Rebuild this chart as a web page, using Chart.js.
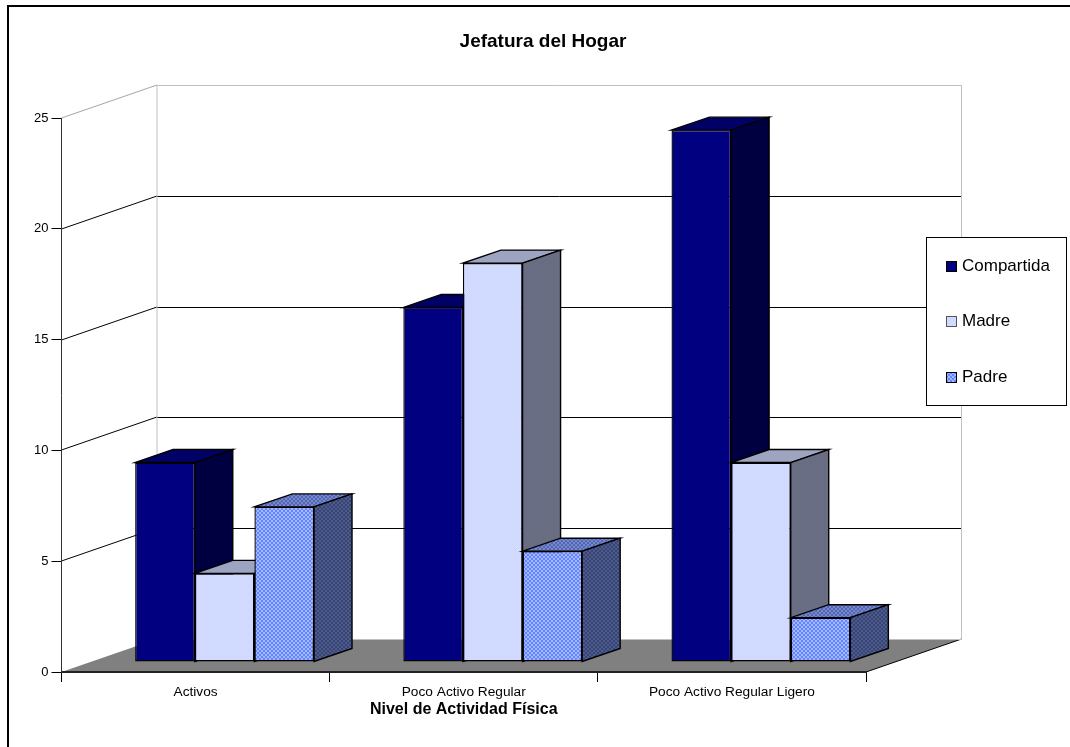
<!DOCTYPE html>
<html>
<head>
<meta charset="utf-8">
<title>Jefatura del Hogar</title>
<script src="https://cdn.jsdelivr.net/npm/chart.js@4/dist/chart.umd.min.js"></script>
<style>
html, body { margin: 0; padding: 0; background: #fff; overflow: hidden; }
canvas { display: block; }
</style>
</head>
<body>
<canvas id="chart" width="1070" height="747"></canvas>
<script>
const categories = ['Activos', 'Poco Activo Regular', 'Poco Activo Regular Ligero'];
const compartida = [9, 16, 24];
const madre = [4, 18, 9];
const padre = [7, 5, 2];

const FONT = '"Liberation Sans", Arial, sans-serif';

// room depth, and where the bars sit inside it
const wallDepth = { x: 95.5, y: -33 };
const barShift = { x: 29, y: -10 };
const barDepth = { x: 38, y: -13 };

// two colour dither tile, used for the fills of the lighter series
function dither(c1, c2, size) {
    let tile = document.createElement('canvas');
    tile.width = size * 2;
    tile.height = size * 2;
    let t = tile.getContext('2d');
    t.fillStyle = c1;
    t.fillRect(0, 0, size * 2, size * 2);
    t.fillStyle = c2;
    t.fillRect(0, 0, size, size);
    t.fillRect(size, size, size, size);
    return t.createPattern(tile, 'repeat');
}

const fills = [
    { front: '#000080', top: '#000066', side: '#000040' },
    { front: dither('#ccd6ff', '#d6deff', 1), top: dither('#99a1bf', '#a1a8c4', 1), side: dither('#666b80', '#6b7086', 1) },
    { front: dither('#6284ff', '#a4b8ff', 2), top: dither('#4e66bf', '#7a89bf', 2), side: dither('#33437f', '#525c80', 2) }
];

function poly(ctx, pts, fill, stroke) {
    ctx.beginPath();
    ctx.moveTo(pts[0][0], pts[0][1]);
    for (let i = 1; i < pts.length; i++)
        ctx.lineTo(pts[i][0], pts[i][1]);
    ctx.closePath();
    if (fill) {
        ctx.fillStyle = fill;
        ctx.fill();
    }
    if (stroke) {
        ctx.strokeStyle = stroke;
        ctx.lineWidth = 1.4;
        ctx.stroke();
    }
}

function line(ctx, x1, y1, x2, y2, color) {
    ctx.strokeStyle = color;
    ctx.lineWidth = 1;
    ctx.beginPath();
    ctx.moveTo(x1, y1);
    ctx.lineTo(x2, y2);
    ctx.stroke();
}

// frame, floor and the two walls go under the axes
const room = {
    id: 'room',
    afterLayout(chart) {
        // the title is centred a little right of the page middle
        chart.titleBlock.left = 16;
        chart.titleBlock.right = chart.width;
    },
    beforeDraw(chart) {
        let ctx = chart.ctx;
        let a = chart.chartArea;
        let y = chart.scales.y;
        let backL = a.left + wallDepth.x;
        let backR = a.right + wallDepth.x;
        let backTop = a.top + wallDepth.y;
        let backBottom = a.bottom + wallDepth.y;

        ctx.save();
        ctx.fillStyle = '#fff';
        ctx.fillRect(0, 0, chart.width, chart.height);
        ctx.strokeStyle = '#000';
        ctx.lineWidth = 2;
        ctx.strokeRect(8, 6, chart.width, chart.height);

        poly(ctx, [[a.left, a.bottom], [backL, backBottom], [backR, backBottom], [a.right, a.bottom]], '#808080');
        line(ctx, a.right, a.bottom, backR, backBottom, '#000');

        y.ticks.forEach(function (t) {
            if (t.value === 0)
                return;
            let py = Math.round(y.getPixelForValue(t.value));
            let color = t.value === y.max ? '#a6a6a6' : '#000';
            line(ctx, a.left, py, backL, py + wallDepth.y, color);
            line(ctx, backL, py + wallDepth.y + 0.5, backR, py + wallDepth.y + 0.5, t.value === y.max ? '#c0c0c0' : '#000');
        });
        line(ctx, backL, backTop, backL, backBottom, '#c0c0c0');
        line(ctx, backR, backTop, backR, backBottom, '#c0c0c0');
        line(ctx, backL, backBottom + 0.5, backR, backBottom + 0.5, '#c0c0c0');
        ctx.restore();
    }
};

// bars stand in from the front edge; series are painted left to right,
// each bar with its top and side face first
const bars3d = {
    id: 'bars3d',
    beforeDatasetsDraw(chart) {
        let ctx = chart.ctx;
        ctx.save();
        ctx.translate(barShift.x, barShift.y);
        chart.data.datasets.forEach(function (ds, index) {
            let meta = chart.getDatasetMeta(index);
            let f = fills[index];
            meta.data.forEach(function (bar) {
                let p = bar.getProps(['x', 'y', 'base', 'width'], true);
                let r = p.x + p.width / 2;
                let l = p.x - p.width / 2;
                poly(ctx, [[l, p.y], [r, p.y], [r + barDepth.x, p.y + barDepth.y], [l + barDepth.x, p.y + barDepth.y]], f.top, '#000');
                poly(ctx, [[r, p.y], [r + barDepth.x, p.y + barDepth.y], [r + barDepth.x, p.base + barDepth.y], [r, p.base]], f.side, '#000');
            });
            meta.controller.draw();
        });
        ctx.restore();
        return false;
    }
};

const legendBox = {
    id: 'legendBox',
    afterDraw(chart) {
        let ctx = chart.ctx;
        let rows = [266, 321, 377];
        ctx.save();
        ctx.fillStyle = '#fff';
        ctx.fillRect(927, 237, 140, 168);
        ctx.strokeStyle = '#000';
        ctx.lineWidth = 1;
        ctx.strokeRect(926.5, 237.5, 140, 168);
        ctx.font = '17px ' + FONT;
        ctx.textBaseline = 'middle';
        chart.data.datasets.forEach(function (ds, i) {
            ctx.fillStyle = fills[i].front;
            ctx.fillRect(946, rows[i] - 5, 10, 10);
            ctx.strokeStyle = i === 1 ? '#555' : '#000';
            ctx.strokeRect(946.5, rows[i] - 4.5, 10, 10);
            ctx.fillStyle = '#000';
            ctx.fillText(ds.label, 962, rows[i]);
        });
        ctx.restore();
    }
};

new Chart(document.getElementById('chart'), {
    type: 'bar',
    data: {
        labels: categories,
        datasets: [
            { label: 'Compartida', data: compartida, backgroundColor: fills[0].front },
            { label: 'Madre', data: madre, backgroundColor: fills[1].front },
            { label: 'Padre', data: padre, backgroundColor: fills[2].front }
        ]
    },
    plugins: [room, bars3d, legendBox],
    options: {
        responsive: false,
        animation: false,
        layout: { padding: { left: 0, right: 204, top: 0, bottom: 0 } },
        datasets: {
            bar: {
                barPercentage: 1,
                categoryPercentage: 0.667,
                borderColor: '#000',
                borderWidth: 1.4,
                borderSkipped: false
            }
        },
        plugins: {
            legend: { display: false },
            tooltip: { enabled: false },
            title: {
                display: true,
                text: 'Jefatura del Hogar',
                color: '#000',
                font: { family: FONT, size: 19, weight: 'bold', lineHeight: 1.2 },
                padding: { top: 30, bottom: 65.2 }
            }
        },
        scales: {
            x: {
                afterFit: function (s) { s.height = 75; },
                grid: { drawOnChartArea: false, tickLength: 10, tickColor: '#000' },
                border: { color: '#222', width: 2 },
                ticks: {
                    color: '#000',
                    padding: 2,
                    maxRotation: 0,
                    font: { family: FONT, size: 13.7 }
                },
                title: {
                    display: true,
                    text: 'Nivel de Actividad Física',
                    color: '#000',
                    font: { family: FONT, size: 16, weight: 'bold', lineHeight: 1.2 },
                    padding: { top: 0, bottom: 27.4 }
                }
            },
            y: {
                min: 0,
                max: 25,
                afterFit: function (s) { s.width = 61.5; },
                grid: { drawOnChartArea: false, tickLength: 10, tickColor: '#000' },
                border: { color: '#333' },
                ticks: {
                    stepSize: 5,
                    color: '#000',
                    padding: 3,
                    font: { family: FONT, size: 13 }
                }
            }
        }
    }
});
</script>
</body>
</html>
